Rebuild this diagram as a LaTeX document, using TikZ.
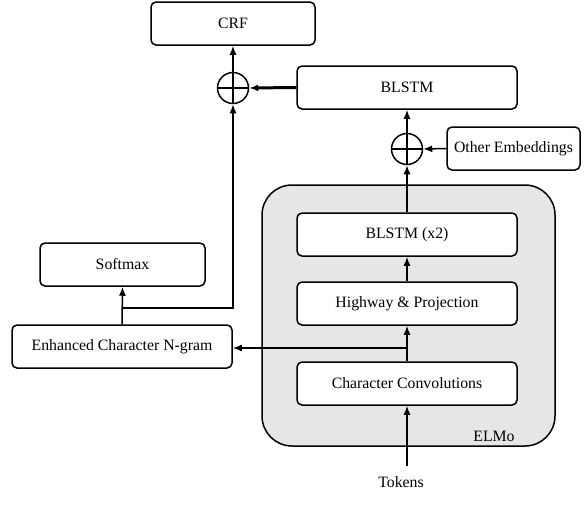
\documentclass[tikz,border=0pt]{standalone}
\usepackage{fontspec}
\setmainfont{Liberation Serif}
\usetikzlibrary{arrows.meta}
\definecolor{elmogray}{HTML}{E6E6E6}
\tikzset{
  box/.style={draw, rounded corners=5pt, line width=1.5pt, fill=white, minimum width=220pt, minimum height=43pt, inner sep=0pt, font=\fontsize{15.8}{19}\selectfont},
  opl/.style={draw, circle, line width=1.5pt, minimum size=31pt, inner sep=0pt},
  arr/.style={line width=1.5pt, -{Latex[length=9pt,width=7pt]}},
  lbl/.style={font=\fontsize{15.8}{19}\selectfont, inner sep=0pt}
}
\begin{document}
\begin{tikzpicture}[x=1pt,y=-1pt]
\useasboundingbox (0,0) rectangle (588,520);
% ELMo container
\node[draw, rounded corners=30pt, line width=1.5pt, fill=elmogray, minimum width=293pt, minimum height=261pt, inner sep=0pt] (elmo) at (408.5,315.5) {};
\node[lbl] (elmolbl) at (494,436) {ELMo};
% boxes
\node[box, minimum width=164pt] (crf) at (233,23.5) {CRF};
\node[box] (blstm) at (407,87.5) {BLSTM};
\node[box, minimum width=133pt] (oe) at (513.5,148.5) {Other Embeddings};
\node[box] (bl2) at (407,234.5) {BLSTM (x2)};
\node[box] (hw) at (407,303.5) {Highway \& Projection};
\node[box] (conv) at (407,383.5) {Character Convolutions};
\node[box, minimum width=165pt] (soft) at (122.5,264.5) {Softmax};
\node[box] (ngram) at (122,346.5) {Enhanced Character N-gram};
\node[lbl] (tok) at (401,482) {Tokens};
% oplus
\node[opl] (o1) at (233,88) {};
\draw[line width=1.5pt] (o1.north) -- (o1.south) (o1.west) -- (o1.east);
\node[opl] (o2) at (407,149) {};
\draw[line width=1.5pt] (o2.north) -- (o2.south) (o2.west) -- (o2.east);
% coordinates
\coordinate (tokTop) at (407,466);
\coordinate (j1) at (122,308);
\coordinate (j1r) at (233,308);
\coordinate (j2) at (407,348);
% connectors
\draw[arr] (tokTop) -- (conv.south);
\draw[arr] (conv.north) -- (hw.south);
\draw[arr] (hw.north) -- (bl2.south);
\draw[arr] (bl2.north) -- (o2.south);
\draw[arr] (oe.west) -- (o2.east);
\draw[arr] (o2.north) -- (blstm.south);
\draw[arr, line width=3pt] (blstm.west) -- (o1.east);
\draw[arr] (o1.north) -- (crf.south);
\draw[arr] (ngram.north) -- (soft.south);
\draw[arr] (j1) -- (j1r) -- (o1.south);
\draw[arr] (j2) -- (ngram.east |- j2);
\end{tikzpicture}
\end{document}
